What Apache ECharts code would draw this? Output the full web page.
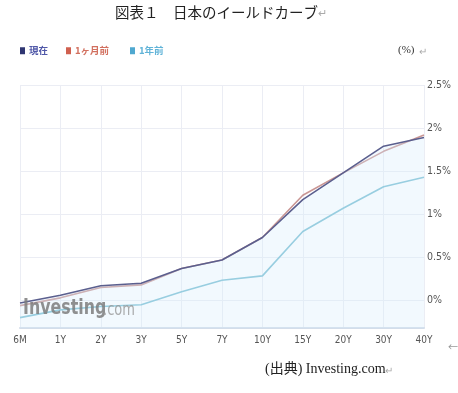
<!DOCTYPE html>
<html><head><meta charset="utf-8">
<script src="https://cdn.jsdelivr.net/npm/echarts@6/dist/echarts.min.js"></script>
<style>html,body{margin:0;padding:0;background:#fff}#c{width:458px;height:393px}</style>
</head><body><div id="c"></div>
<script>
var categories = ['6M','1Y','2Y','3Y','5Y','7Y','10Y','15Y','20Y','30Y','40Y'];
var nowVals    = [-0.03, 0.06, 0.17, 0.20, 0.37, 0.47, 0.73, 1.17, 1.48, 1.79, 1.89];
var monthVals  = [-0.06, 0.03, 0.15, 0.18, 0.37, 0.47, 0.73, 1.22, 1.48, 1.73, 1.92];
var yearVals   = [-0.20, -0.11, -0.07, -0.05, 0.10, 0.235, 0.285, 0.80, 1.07, 1.32, 1.43];
var yTicks     = [0, 0.5, 1, 1.5, 2, 2.5];
var seriesNames = ['現在', '1ヶ月前', '1年前'];

var narrow = '"Liberation Sans Narrow","DejaVu Sans Condensed",sans-serif';
var cjk = '"Noto Sans CJK JP",sans-serif';
var serif = '"Liberation Serif","Noto Sans CJK JP",serif';

function legendItem(name, left, sq, tc) {
  return {
    left: left, top: 46, icon: 'rect', itemWidth: 5, itemHeight: 7, itemGap: 0,
    selectedMode: false, padding: 0,
    data: [{name: name, itemStyle: {color: sq}, textStyle: {color: tc}}],
    textStyle: {fontFamily: cjk, fontSize: 9.5, fontWeight: 'bold', padding: [0,0,0,-1]}
  };
}

var chart = echarts.init(document.getElementById('c'));
chart.setOption({
  animation: false,
  backgroundColor: '#fff',
  grid: {left: 20, right: 34, top: 85, bottom: 65},
  legend: [
    legendItem(seriesNames[0], 20, '#2f3672', '#5058a8'),
    legendItem(seriesNames[1], 66, '#d0604f', '#d2705f'),
    legendItem(seriesNames[2], 130, '#4fa8d0', '#62b4d8')
  ],
  xAxis: {
    type: 'category', data: categories, boundaryGap: false,
    axisLine: {onZero: false, lineStyle: {color: '#d3ddea', width: 2}},
    axisTick: {show: false},
    axisLabel: {color: '#555', fontFamily: narrow, fontSize: 10, margin: 7},
    splitLine: {show: true, lineStyle: {color: '#ebedf4', width: 1}}
  },
  yAxis: {
    type: 'value', position: 'right', min: -0.32, max: 2.5,
    axisLine: {show: false},
    axisTick: {show: false, customValues: yTicks},
    axisLabel: {color: '#555', fontFamily: narrow, fontSize: 10.5, margin: 3,
      customValues: yTicks, formatter: function (v) { return v + '%'; }},
    splitLine: {show: true, lineStyle: {color: '#ebedf4', width: 1}}
  },
  graphic: [
    {type: 'text', left: 115, top: 5, z: 10, style: {text: '図表１　日本のイールドカーブ', fontFamily: cjk, fontSize: 14.5, fill: '#222'}},
    {type: 'text', left: 318, top: 7, z: 10, style: {text: '↵', fontFamily: cjk, fontSize: 11, fill: '#aaa'}},
    {type: 'text', left: 398, top: 45, z: 10, style: {text: '(%)', fontFamily: serif, fontSize: 11, fill: '#333'}},
    {type: 'text', left: 419, top: 46, z: 10, style: {text: '↵', fontFamily: cjk, fontSize: 10, fill: '#aaa'}},
    {type: 'text', x: 23, y: 297, scaleX: 0.8, z: 100, style: {text: 'Investing', fontFamily: narrow, fontWeight: 'bold', fontSize: 22, verticalAlign: 'top', fill: 'rgba(125,125,125,0.85)'}},
    {type: 'text', x: 103, y: 302, scaleX: 0.85, z: 100, style: {text: '.com', fontFamily: narrow, fontSize: 17, verticalAlign: 'top', fill: 'rgba(150,150,150,0.8)'}},
    {type: 'text', left: 448, top: 342, z: 10, style: {text: '←', fontFamily: cjk, fontSize: 10, fill: '#999'}},
    {type: 'text', left: 265, top: 362, z: 10, style: {text: '(出典) Investing.com', fontFamily: serif, fontSize: 14, fill: '#222'}},
    {type: 'text', left: 385, top: 365, z: 10, style: {text: '↵', fontFamily: cjk, fontSize: 10, fill: '#aaa'}}
  ],
  series: [
    {name: seriesNames[0], type: 'line', data: nowVals, symbol: 'none', z: 4,
      itemStyle: {color: '#2f3672'}, lineStyle: {color: '#5b5f8e', width: 1.6},
      areaStyle: {color: 'rgba(214,236,252,0.45)', origin: 'start'}},
    {name: seriesNames[1], type: 'line', data: monthVals, symbol: 'none', z: 3,
      itemStyle: {color: '#d0604f'}, lineStyle: {color: '#c99694', width: 1.6}},
    {name: seriesNames[2], type: 'line', data: yearVals, symbol: 'none', z: 3,
      itemStyle: {color: '#4fa8d0'}, lineStyle: {color: '#7cc0d4', width: 1.6}}
  ]
});
</script></body></html>
